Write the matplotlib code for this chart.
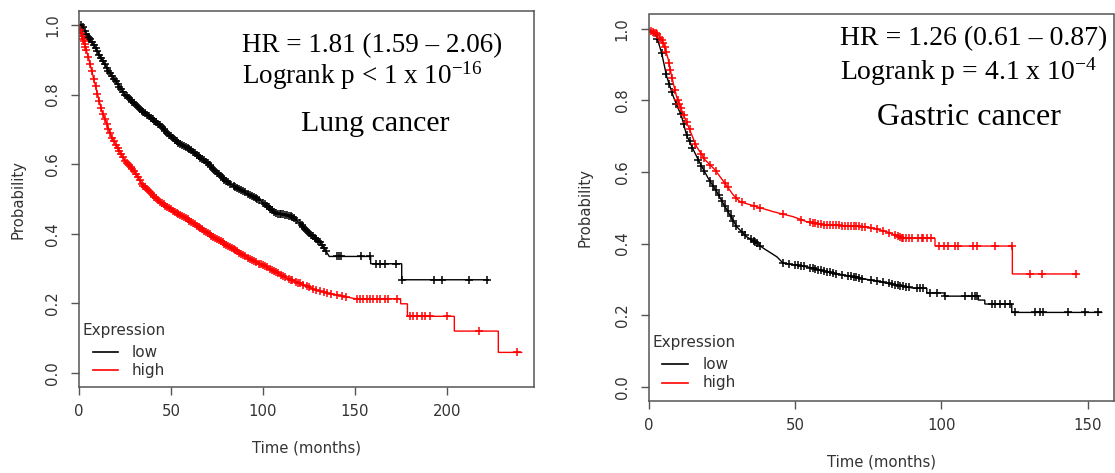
import numpy as np
import matplotlib
matplotlib.use("Agg")
import matplotlib.pyplot as plt
from matplotlib.lines import Line2D

plt.rcParams['mathtext.fontset'] = 'custom'
plt.rcParams['mathtext.rm'] = 'Liberation Serif'
plt.rcParams['mathtext.it'] = 'Liberation Serif:italic'
plt.rcParams['font.family'] = ['DejaVu Sans']

W, H = 1115, 473

# ---------------- Lung cancer (left) ----------------
lung_low_t = [0, 1.4, 4, 8.7, 15.9, 25, 34, 43.1, 52.2, 61.2, 70.3, 79.3, 88.4, 98.4, 107.4, 112,
              116.5, 120, 125.5, 131, 134.6, 136, 158.5, 158.5, 175.4, 175.4, 222.5]
lung_low_p = [1.0, 0.998, 0.975, 0.936, 0.869, 0.80, 0.754, 0.716, 0.668, 0.639, 0.601, 0.553, 0.524,
              0.496, 0.4575, 0.455, 0.448, 0.43, 0.40, 0.376, 0.347, 0.335, 0.335, 0.314, 0.314, 0.268, 0.268]
lung_low_cens = [1, 2, 3, 4, 5, 5.5, 6, 7, 8, 9, 10, 11, 12, 13, 14, 15, 16, 17, 18, 19, 20, 21, 22, 23,
                 24, 25, 26, 27, 28, 29, 30, 31, 32, 33, 34, 35, 36, 37, 38, 39, 40, 41, 42, 43, 44, 45,
                 46, 47, 48, 49, 50, 51, 52, 53, 54, 55, 56, 57, 58, 59, 60, 61, 62, 63, 64, 65, 66, 67,
                 68, 69, 70, 71, 72, 73, 74, 75, 76, 77, 78, 79, 80, 81, 82, 84, 85, 86, 87, 88, 89, 90,
                 92, 93, 94, 95, 96, 97, 98, 100, 101, 102, 103, 104, 105, 106, 107, 108, 109, 110, 111,
                 112, 113, 114, 115, 116, 117, 118, 120, 121, 122, 123, 124, 125, 126, 127, 128, 129, 130,
                 131, 132, 133, 134, 140, 141.3, 142.4, 153.5, 158.3, 161.6, 163.4, 166.1, 172.4,
                 175.4, 193, 197.2, 212, 221.6]

lung_high_t = [0, 0.5, 3, 5.1, 8.7, 12.3, 17.8, 25, 30.7, 34, 43.1, 50, 57.9, 65.6, 73.4, 81.2, 88.9,
               96.7, 104.5, 112.2, 120, 127.8, 135.5, 143.3, 150.2, 174.8, 174.8, 178.5, 178.5, 204, 204,
               227.9, 227.9, 240.6]
lung_high_p = [1.0, 0.985, 0.945, 0.907, 0.83, 0.754, 0.677, 0.61, 0.575, 0.544, 0.496, 0.47, 0.445,
               0.418, 0.39, 0.365, 0.34, 0.318, 0.298, 0.274, 0.258, 0.24, 0.229, 0.221, 0.2135, 0.2135,
               0.199, 0.199, 0.163, 0.163, 0.1206, 0.1206, 0.0594, 0.0594]
lung_high_cens = [0.5, 1, 1.5, 2, 2.5, 3, 3.5, 4, 5, 6, 7, 8, 9, 10, 11, 12, 13, 14, 15, 16, 17, 18, 19,
                  20, 21, 22, 23, 24, 25, 26, 27, 28, 29, 30, 31, 32, 33, 34, 35, 36, 37, 38, 39, 40, 41,
                  42, 43, 44, 45, 46, 47, 48, 49, 50, 51, 52, 53, 54, 55, 56, 57, 58, 59, 60, 61, 62, 63,
                  64, 65, 66, 67, 68, 69, 70, 71, 72, 73, 74, 75, 76, 77, 78, 79, 80, 81, 82, 83, 84, 85,
                  86, 87, 88, 89, 90, 92, 93, 94, 95, 96, 98, 99, 100, 101, 102, 104, 105, 106, 107, 108,
                  110, 111, 112, 114, 115, 116, 118, 119, 120, 122, 124, 125, 127, 129, 131, 133, 135, 137,
                  140, 143, 145, 150.9, 152.7, 154.5, 156.3, 158.2, 160, 161.8, 163.6, 166.3, 168.1,
                  172.7, 179.9, 181.7, 183.5, 186.2, 188, 190.8, 199.8, 217.6, 237.8]

# ---------------- Gastric cancer (right) ----------------
gas_low_t = [0, 2.8, 4.5, 6.2, 8.5, 11.3, 13, 15.3, 17.6, 20.4, 23.3, 25.5, 27.8, 30.1, 33.5, 36.3, 39.2,
             43.8, 46, 54, 60.8, 69.9, 79, 90.6, 95, 95, 101, 101, 112.6, 112.6, 114.8, 114.8, 124, 124,
             154.7]
gas_low_p = [1.0, 0.978, 0.932, 0.867, 0.81, 0.755, 0.703, 0.662, 0.624, 0.582, 0.545, 0.512, 0.48, 0.447,
             0.419, 0.405, 0.387, 0.363, 0.345, 0.335, 0.321, 0.307, 0.293, 0.275, 0.275, 0.262, 0.262,
             0.253, 0.253, 0.242, 0.242, 0.231, 0.231, 0.2075, 0.2075]
gas_low_cens = [3, 4.5, 6, 7, 8, 9.5, 11, 12, 13, 14, 15, 17, 18, 19, 21, 22, 23, 24, 25, 26, 27, 28, 29,
                30, 32, 33, 35, 36, 36.5, 37, 38, 46, 48, 50, 51, 52, 53, 55, 56, 57, 58, 59, 60, 61, 62,
                63, 64, 66, 68, 69, 70, 71, 72, 73, 76, 78, 80, 82, 83, 84, 85, 86, 87, 88, 89, 91.5, 92.6,
                93.8, 96.1, 98.4, 101.2, 108, 110.3, 111.5, 112, 117.1, 118.3, 120, 121.7, 123.4, 125.1,
                131.9, 133.6, 134.8, 143.3, 149, 153.3]

gas_high_t = [0, 3.3, 5.1, 6.8, 7.9, 9.6, 11.3, 13.6, 16.4, 19.3, 22.7, 26.1, 28.9, 31.2, 36.9, 42.6,
              49.4, 54, 60.8, 74.5, 81.3, 87, 97.8, 97.8, 124.2, 124.2, 146.4]
gas_high_p = [1.0, 0.983, 0.96, 0.913, 0.867, 0.81, 0.773, 0.727, 0.671, 0.634, 0.606, 0.568, 0.536,
              0.517, 0.503, 0.489, 0.475, 0.461, 0.452, 0.447, 0.433, 0.4145, 0.4145, 0.393, 0.393,
              0.315, 0.315]
gas_high_cens = [1, 1.5, 2, 2.5, 3, 4, 4.5, 5, 5.5, 6, 7, 7.5, 8, 9, 10, 10.5, 11, 12, 13, 14, 16, 18,
                 19, 21, 23, 26, 27, 30, 32, 36, 38, 46, 52, 55, 56, 57, 58, 59, 60, 61, 62, 63, 64, 65,
                 66, 67, 68, 69, 70, 71, 72, 73, 74, 76, 78, 80, 82, 84, 85, 86, 86.5, 87, 88, 89, 90,
                 92.1, 93.3, 93.8, 94.9, 96.6, 99, 100.7, 102.4, 104.7, 105.8, 110.9, 112, 118.3, 124,
                 130.3, 134.3, 145.9]

x_ticks_lung = [0, 50, 100, 150, 200]
x_ticks_gas = [0, 50, 100, 150]
y_ticks = [0.0, 0.2, 0.4, 0.6, 0.8, 1.0]
series_labels = ['low', 'high']
series_colors = ['black', 'red']


def curve_at(tp, pp, tc):
    tp = np.asarray(tp, float)
    pp = np.asarray(pp, float)
    out = []
    for c in tc:
        i = int(np.searchsorted(tp, c, side='right')) - 1
        i = max(0, min(i, len(tp) - 2))
        t0, t1, p0, p1 = tp[i], tp[i + 1], pp[i], pp[i + 1]
        out.append(p0 if t1 == t0 else p0 + (p1 - p0) * (c - t0) / (t1 - t0))
    return out


def fx(px):
    return px / W


def fy(py):
    return 1 - py / H


fig = plt.figure(figsize=(W / 100, H / 100), dpi=100)

panels = [
    dict(rect=[fx(79), fy(387), (534 - 79) / W, (387 - 11) / H], xlim=(0, 247.3), xt=x_ticks_lung,
         curves=[(lung_low_t, lung_low_p, lung_low_cens), (lung_high_t, lung_high_p, lung_high_cens)],
         ylab_x=18, xlab_y=448,
         hr="HR = 1.81 (1.59 \u2013 2.06)", lr=r"Logrank p < 1 x 10$^{\mathregular{-16}}$",
         name="Lung cancer", tx=242, hr_y=51.7, lr_y=83.3, nm_x=301, nm_y=131,
         hr_fs=19.5, nm_fs=21.5,
         leg=dict(tx=83, ty=330, lx0=93, lx1=118, ltx=131.7, ly=[352, 370])),
    dict(rect=[fx(648.5), fy(401), (1114 - 648.5) / W, (401 - 14.5) / H], xlim=(0, 158.9), xt=x_ticks_gas,
         curves=[(gas_low_t, gas_low_p, gas_low_cens), (gas_high_t, gas_high_p, gas_high_cens)],
         ylab_x=585, xlab_y=462,
         hr="HR = 1.26 (0.61 \u2013 0.87)", lr=r"Logrank p = 4.1 x 10$^{\mathregular{-4}}$",
         name="Gastric cancer", tx=840, hr_y=45, lr_y=80, nm_x=877, nm_y=125,
         hr_fs=20, nm_fs=23,
         leg=dict(tx=653, ty=342, lx0=662, lx1=688, ltx=703, ly=[364, 383])),
]

tick_col = '#333333'
for pn in panels:
    ax = fig.add_axes(pn['rect'])
    for (tt, pp, cc), col in zip(pn['curves'], series_colors):
        ax.plot(tt, pp, color=col, lw=1.0, solid_joinstyle='miter')
        ax.plot(cc, curve_at(tt, pp, cc), ls='none', marker='+', color=col, ms=6, mew=1.1)
    ax.set_xlim(*pn['xlim'])
    ax.set_ylim(-0.04, 1.04)
    ax.set_xticks(pn['xt'])
    ax.set_xticklabels([str(v) for v in pn['xt']])
    ax.set_yticks(y_ticks)
    ax.set_yticklabels([f"{v:.1f}" for v in y_ticks], rotation=90, va='center')
    for s in ax.spines.values():
        s.set_color('#555555')
        s.set_linewidth(1.1)
    ax.tick_params(axis='both', length=5.5, width=1.0, color='#555555', labelsize=10.7,
                   labelcolor=tick_col)
    ax.tick_params(axis='x', pad=6.5)
    ax.tick_params(axis='y', pad=8)

    cx = (pn['rect'][0] + pn['rect'][2] / 2)
    fig.text(cx, fy(pn['xlab_y']), 'Time (months)', ha='center', va='center', fontsize=10.7, color=tick_col)
    fig.text(fx(pn['ylab_x']), pn['rect'][1] + pn['rect'][3] / 2, 'Probability', rotation=90,
             ha='center', va='center', fontsize=10.7, color=tick_col)

    fig.text(fx(pn['tx']), fy(pn['hr_y']), pn['hr'], family='Liberation Serif', fontsize=pn['hr_fs'],
             ha='left', va='baseline', color='black')
    fig.text(fx(pn['tx']), fy(pn['lr_y']), pn['lr'], family='Liberation Serif', fontsize=pn['hr_fs'],
             ha='left', va='baseline', color='black')
    fig.text(fx(pn['nm_x']), fy(pn['nm_y']), pn['name'], family='Liberation Serif', fontsize=pn['nm_fs'],
             ha='left', va='baseline', color='black')

    lg = pn['leg']
    fig.text(fx(lg['tx']), fy(lg['ty']), 'Expression', ha='left', va='center', fontsize=11, color=tick_col)
    for lab, col, yy in zip(series_labels, series_colors, lg['ly']):
        fig.add_artist(Line2D([fx(lg['lx0']), fx(lg['lx1'])], [fy(yy), fy(yy)],
                              transform=fig.transFigure, color=col, lw=1.2))
        fig.text(fx(lg['ltx']), fy(yy), lab, ha='left', va='center', fontsize=11, color=tick_col)

fig.savefig('out.png', dpi=100, facecolor='white')
